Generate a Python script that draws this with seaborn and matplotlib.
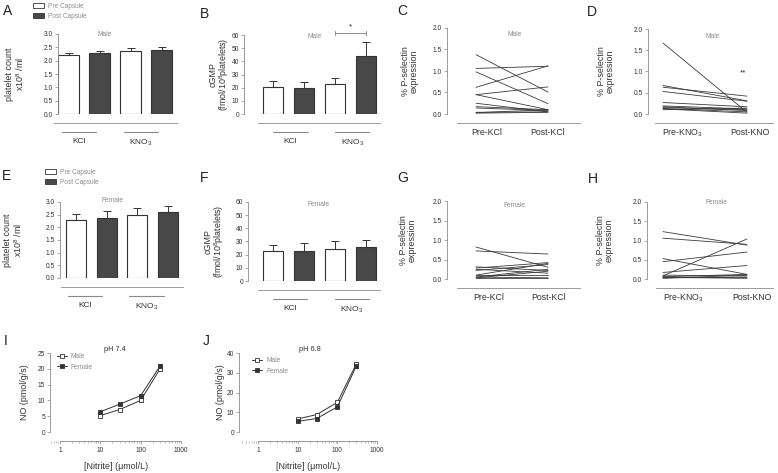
import matplotlib
matplotlib.use('Agg')
import matplotlib.pyplot as plt
from matplotlib.transforms import offset_copy
from matplotlib.patches import Patch
from matplotlib.ticker import LogLocator, NullFormatter
import seaborn as sns
import pandas as pd
import numpy as np

sns.set_style('ticks')
plt.rcParams['font.family'] = ['Liberation Sans', 'DejaVu Sans']
plt.rcParams['mathtext.fontset'] = 'custom'
plt.rcParams['mathtext.rm'] = 'Liberation Sans'
plt.rcParams['mathtext.it'] = 'Liberation Sans:italic'
plt.rcParams['mathtext.default'] = 'regular'

# ---- data ----
groups = ['KCl', 'KNO$_3$']
times = ['Pre Capsule', 'Post Capsule']

# rows = time (pre, post), cols = group (KCl, KNO3)
plt_male = [[2.20, 2.38], [2.28, 2.40]]
plt_male_err = [[0.10, 0.10], [0.07, 0.12]]
plt_female = [[2.30, 2.48], [2.38, 2.60]]
plt_female_err = [[0.22, 0.27], [0.28, 0.25]]

cgmp_male = [[20.3, 22.5], [19.8, 44.0]]
cgmp_male_err = [[4.7, 4.8], [4.3, 10.5]]
cgmp_female = [[23.0, 24.0], [22.5, 25.5]]
cgmp_female_err = [[4.7, 6.0], [6.5, 6.0]]

# P-selectin expression, paired pre/post per subject
psel_m_kcl_pre = [1.38, 1.06, 0.98, 0.62, 0.45, 0.45, 0.25, 0.17, 0.14, 0.04, 0.03, 0.02]
psel_m_kcl_post = [0.51, 1.11, 0.24, 1.12, 0.63, 0.10, 0.05, 0.10, 0.08, 0.05, 0.10, 0.04]
psel_m_kno_pre = [1.67, 0.67, 0.63, 0.53, 0.27, 0.19, 0.17, 0.15, 0.13, 0.12, 0.10]
psel_m_kno_post = [0.04, 0.31, 0.42, 0.30, 0.17, 0.12, 0.08, 0.10, 0.05, 0.02, 0.14]
psel_f_kcl_pre = [0.82, 0.72, 0.31, 0.28, 0.25, 0.22, 0.10, 0.10, 0.05, 0.03, 0.02, 0.05]
psel_f_kcl_post = [0.30, 0.64, 0.22, 0.42, 0.15, 0.37, 0.40, 0.10, 0.03, 0.20, 0.02, 0.25]
psel_f_kno_pre = [1.23, 1.06, 0.53, 0.45, 0.17, 0.08, 0.10, 0.05, 0.04, 0.03, 0.06, 0.02]
psel_f_kno_post = [0.88, 0.90, 0.12, 0.70, 0.35, 1.04, 0.08, 0.03, 0.02, 0.05, 0.12, 0.10]

# NO generation vs nitrite
nitrite = [10, 30, 100, 300]
no74_male = [5.2, 7.1, 10.0, 19.9]
no74_male_err = [0.3, 0.4, 0.5, 0.6]
no74_female = [6.4, 8.8, 11.5, 20.8]
no74_female_err = [0.3, 0.4, 0.5, 0.6]
no68_male = [6.6, 8.8, 15.0, 34.4]
no68_male_err = [0.4, 0.5, 0.6, 0.9]
no68_female = [5.4, 6.8, 12.7, 33.3]
no68_female_err = [0.4, 0.5, 0.6, 0.9]

# ---- style ----
W, H = 778, 473
EDGE = '#333333'
DARK = '#484848'
AXC = '#8a8a8a'
TXT = '#333333'
GRAY = '#8c8c8c'

fig = plt.figure(figsize=(W / 100, H / 100), dpi=100)


def add_ax(left, top, right, bottom):
    return fig.add_axes([left / W, 1 - bottom / H, (right - left) / W, (bottom - top) / H])


def ftext(x, y, s, **kw):
    fig.text(x / W, 1 - y / H, s, **kw)


def style(ax, ylabel, label_right, yticks, yfmt):
    for s in ['top', 'right']:
        ax.spines[s].set_visible(False)
    for s in ['left', 'bottom']:
        ax.spines[s].set_color(AXC)
        ax.spines[s].set_linewidth(0.6)
    ax.spines['bottom'].set_position(('outward', 6.8))
    ax.set_ylim(yticks[0], yticks[-1])
    ax.set_yticks(yticks)
    ax.set_yticklabels([yfmt.format(v) for v in yticks])
    ax.tick_params(axis='y', length=2, width=0.5, color=AXC, labelsize=4.8, labelcolor=TXT, pad=1.5)
    ax.set_xlabel('')
    ax.set_ylabel(ylabel, fontsize=6.4, color=TXT, linespacing=1.0)
    pos = ax.get_position()
    ax.yaxis.set_label_coords((label_right / W - pos.x0) / pos.width, 0.5)


def bar_panel(box, vals, errs, xlim, shift, ylabel, lab_x, yticks, yfmt):
    ax = add_ax(*box)
    df = pd.DataFrame({
        'group': [g for t in times for g in groups],
        'time': [t for t in times for g in groups],
        'value': [v for row in vals for v in row],
    })
    sns.barplot(data=df, x='group', y='value', hue='time', order=groups, hue_order=times,
                palette={'Pre Capsule': 'white', 'Post Capsule': DARK}, saturation=1,
                width=1, gap=0.35, edgecolor=EDGE, linewidth=0.8, errorbar=None,
                legend=False, ax=ax)
    for cont, err in zip(ax.containers, errs):
        xs = [b.get_x() + b.get_width() / 2 for b in cont]
        hs = [b.get_height() for b in cont]
        ax.errorbar(xs, hs, yerr=[np.zeros(len(err)), err], fmt='none', ecolor=EDGE,
                    elinewidth=0.7, capsize=3, capthick=0.7)
    ax.set_xlim(*xlim)
    style(ax, ylabel, lab_x, yticks, yfmt)
    ax.spines['bottom'].set_bounds(-0.49, xlim[1])
    centers = [i + shift for i in range(len(groups))]
    ax.set_xticks(centers)
    ax.set_xticklabels(groups)
    ax.tick_params(axis='x', length=0, labelsize=6, labelcolor=TXT, pad=10.5)
    line_tr = offset_copy(ax.get_xaxis_transform(), fig=fig, y=-18, units='dots')
    for c in centers:
        ax.plot([c - 0.28, c + 0.28], [0, 0], transform=line_tr, color=AXC, lw=0.8, clip_on=False)
    return ax


def pair_panel(box, pre, post, xlim, spine_lo, ticks, labels, ylabel, lab_x):
    ax = add_ax(*box)
    n = len(pre)
    df = pd.DataFrame({'id': list(range(n)) * 2, 't': [0] * n + [1] * n, 'v': pre + post})
    sns.lineplot(data=df, x='t', y='v', units='id', estimator=None, color='#3a3a3a',
                 lw=0.6, ax=ax)
    ax.set_xlim(*xlim)
    style(ax, ylabel, lab_x, [0, 0.5, 1.0, 1.5, 2.0], '{:.1f}')
    ax.spines['bottom'].set_bounds(spine_lo, xlim[1])
    ax.set_xticks(ticks)
    ax.set_xticklabels(labels)
    ax.tick_params(axis='x', length=0, labelsize=6.3, labelcolor=TXT, pad=3)
    return ax


def no_panel(box, xlim, male, male_err, female, female_err, yticks, lab_x, title, tx, leg_xy):
    ax = add_ax(*box)
    ax.set_xscale('log')
    ax.errorbar(nitrite, male, yerr=male_err, fmt='none', ecolor=EDGE, elinewidth=0.6,
                capsize=1.5, capthick=0.6, zorder=1)
    ax.errorbar(nitrite, female, yerr=female_err, fmt='none', ecolor=EDGE, elinewidth=0.6,
                capsize=1.5, capthick=0.6, zorder=1)
    sns.lineplot(x=nitrite, y=male, marker='s', markersize=3.2, color=EDGE, lw=0.7,
                 markerfacecolor='white', markeredgecolor=EDGE, markeredgewidth=0.6,
                 label='Male', ax=ax)
    sns.lineplot(x=nitrite, y=female, marker='s', markersize=3.2, color=EDGE, lw=0.7,
                 markerfacecolor=EDGE, markeredgecolor=EDGE, markeredgewidth=0.6,
                 label='Female', ax=ax)
    ax.set_xlim(*xlim)
    style(ax, 'NO (pmol/g/s)', lab_x, yticks, '{:d}')
    ax.spines['bottom'].set_bounds(1, 1000)
    ax.set_xticks([1, 10, 100, 1000])
    ax.set_xticklabels(['1', '10', '100', '1000'])
    ax.xaxis.set_minor_locator(LogLocator(base=10, subs=np.arange(2, 10)))
    ax.xaxis.set_minor_formatter(NullFormatter())
    ax.tick_params(axis='x', which='major', length=2, width=0.5, color=AXC,
                   labelsize=4.8, labelcolor=TXT, pad=2)
    ax.tick_params(axis='x', which='minor', length=1.2, width=0.4, color=AXC)
    ax.set_xlabel('[Nitrite] (\u03bcmol/L)', fontsize=6.4, color=TXT, labelpad=6)
    leg = ax.legend(loc='upper left', bbox_to_anchor=leg_xy, frameon=False, fontsize=4.8,
                    handlelength=1.5, handletextpad=0.6, labelspacing=0.55,
                    borderpad=0, borderaxespad=0)
    for t in leg.get_texts():
        t.set_color(GRAY)
    ftext(tx, 349, title, fontsize=5.3, color=TXT, ha='center', va='center')
    return ax


# ---- row 1 (male) ----
ylab_plt = 'platelet count\nx10$^8$ /ml'
ylab_cgmp = 'cGMP\n(fmol/10$^8$platelets)'
ylab_psel = '% P-selectin\nexpression'

axA = bar_panel((58, 34, 177, 114), plt_male, plt_male_err, (-0.42, 1.50), -0.08,
                ylab_plt, 26, [0, 0.5, 1.0, 1.5, 2.0, 2.5, 3.0], '{:.1f}')
axB = bar_panel((244, 35, 380, 114), cgmp_male, cgmp_male_err, (-0.72, 1.48), 0.03,
                ylab_cgmp, 231, [0, 10, 20, 30, 40, 50, 60], '{:d}')
# significance bracket between KNO3 pre and post
bx0 = axB.containers[0][1].get_x() + axB.containers[0][1].get_width() / 2
bx1 = axB.containers[1][1].get_x() + axB.containers[1][1].get_width() / 2
axB.plot([bx0, bx1], [61.5, 61.5], color=GRAY, lw=0.7, clip_on=False)
for bx in (bx0, bx1):
    axB.plot([bx, bx], [60.3, 62.7], color=GRAY, lw=0.7, clip_on=False)
axB.text((bx0 + bx1) / 2, 63.2, '*', ha='center', va='bottom', fontsize=6, color=TXT)

pair_panel((447, 28, 580, 114), psel_m_kcl_pre, psel_m_kcl_post, (-0.403, 1.444), -0.264,
           [0.15, 1.0], ['Pre-KCl', 'Post-KCl'], ylab_psel, 419)
axD = pair_panel((648, 29, 773, 114), psel_m_kno_pre, psel_m_kno_post, (-0.179, 1.31), -0.095,
                 [0.23, 1.04], ['Pre-KNO$_3$', 'Post-KNO'], ylab_psel, 615)
axD.text(0.96, 0.96, '**', ha='center', va='center', fontsize=6, color=TXT)

# ---- row 2 (female) ----
bar_panel((60, 202, 183, 278), plt_female, plt_female_err, (-0.51, 1.49), -0.1,
          ylab_plt, 24, [0, 0.5, 1.0, 1.5, 2.0, 2.5, 3.0], '{:.1f}')
bar_panel((248, 202, 380, 281), cgmp_female, cgmp_female_err, (-0.65, 1.48), 0.03,
          ylab_cgmp, 226, [0, 10, 20, 30, 40, 50, 60], '{:d}')
pair_panel((447, 201, 580, 279), psel_f_kcl_pre, psel_f_kcl_post, (-0.403, 1.444), -0.264,
           [0.17, 1.01], ['Pre-KCl', 'Post-KCl'], ylab_psel, 417)
pair_panel((647, 202, 773, 279), psel_f_kno_pre, psel_f_kno_post, (-0.19, 1.31), -0.083,
           [0.24, 1.06], ['Pre-KNO$_3$', 'Post-KNO'], ylab_psel, 614)

# ---- row 3 (nitrite) ----
no_panel((50, 353, 182, 432), (0.565, 1059), no74_male, no74_male_err, no74_female,
         no74_female_err, [0, 5, 10, 15, 20, 25], 29, 'pH 7.4', 115, (0.05, 1.0))
no_panel((239, 353, 378, 432), (0.332, 1060), no68_male, no68_male_err, no68_female,
         no68_female_err, [0, 10, 20, 30, 40], 225, 'pH 6.8', 310, (0.095, 0.95))

# ---- legends for platelet panels ----
leg_handles = [Patch(facecolor='white', edgecolor=EDGE, linewidth=0.6),
               Patch(facecolor=DARK, edgecolor=EDGE, linewidth=0.6)]
for lx, ly in [(33, 3), (45, 169)]:
    leg = fig.legend(leg_handles, times, loc='upper left', bbox_to_anchor=(lx / W, 1 - ly / H),
                     frameon=False, fontsize=4.7, handlelength=1.7, handleheight=0.75,
                     handletextpad=0.6, labelspacing=0.45, borderpad=0, borderaxespad=0)
    for t in leg.get_texts():
        t.set_color(GRAY)

# ---- sex annotations ----
for x, y, s in [(105, 35, 'Male'), (315, 36, 'Male'), (515, 34, 'Male'), (713, 36, 'Male'),
                (113, 200, 'Female'), (318, 204, 'Female'), (515, 205, 'Female'),
                (717, 203, 'Female')]:
    ftext(x, y, s, fontsize=4.8, color=GRAY, ha='center', va='center')

# ---- panel letters ----
for x, y, s in [(3, 4, 'A'), (200, 7, 'B'), (397, 4, 'C'), (587, 5, 'D'),
                (2, 169, 'E'), (200, 171, 'F'), (397, 171, 'G'), (588, 172, 'H'),
                (4, 334, 'I'), (203, 334, 'J')]:
    ftext(x, y, s, fontsize=10, color='#222222', ha='left', va='top')

fig.savefig('out.png', dpi=100)
